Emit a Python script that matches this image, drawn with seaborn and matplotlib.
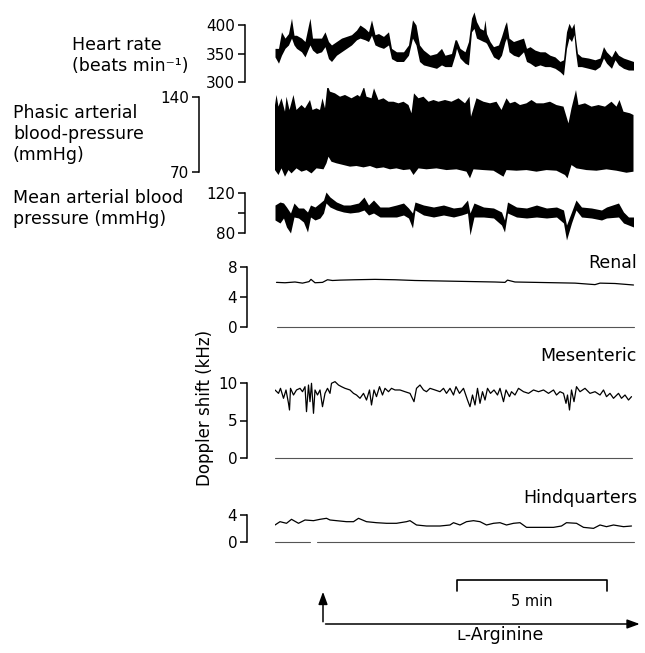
import numpy as np
import seaborn as sns
import matplotlib.pyplot as plt

sns.set_style("ticks")
plt.rcParams["font.family"] = ["DejaVu Sans"]
plt.rcParams["font.size"] = 12.5
plt.rcParams["text.color"] = "black"
plt.rcParams["ytick.color"] = "black"
plt.rcParams["axes.edgecolor"] = "black"

# time in seconds from start of record (trace is ~12 min long)
# heart rate: upper and lower edge of the noisy trace
hr_t = [0, 7, 13, 20, 27, 33, 38, 43, 53, 60, 67, 70, 75, 83, 93, 100, 107, 113, 123, 133,
        143, 153, 163, 170, 180, 187, 193, 200, 207, 217, 227, 233, 243, 257, 267, 275, 282, 289, 297, 310,
        323, 333, 340, 353, 360,
        363, 370, 380, 387, 393, 398, 403, 410, 417, 420, 423, 430, 437, 447, 453, 460, 463, 468, 477, 487,
        497, 503, 510, 520, 530, 540, 550, 560, 570, 577, 583, 588, 593, 598, 601, 605, 613, 627, 640, 650,
        657, 663, 673, 680, 687, 697, 707, 717]
hr_hi = [359, 359, 388, 377, 385, 412, 382, 382, 377, 371, 400, 412, 377, 377, 377, 388, 371, 365, 371, 377,
         380, 383, 391, 400, 394, 388, 409, 383, 385, 380, 388, 359, 353, 353, 365, 409, 400, 365, 356, 347,
         350, 359, 347, 350, 374,
         374, 359, 353, 371, 412, 423, 406, 394, 391, 409, 385, 371, 362, 365, 380, 400, 406, 377, 371, 374,
         377, 359, 362, 356, 353, 353, 347, 344, 336, 339, 388, 403, 394, 403, 377, 350, 344, 342, 339, 342,
         362, 353, 344, 356, 347, 342, 339, 336]
hr_lo = [344, 333, 347, 359, 365, 377, 365, 359, 353, 344, 359, 365, 356, 350, 353, 362, 341, 336, 347, 353,
         359, 365, 374, 377, 374, 371, 382, 365, 362, 359, 365, 341, 336, 336, 347, 377, 365, 336, 330, 327,
         324, 330, 327, 327, 347,
         359, 342, 333, 330, 388, 394, 377, 374, 371, 370, 368, 356, 344, 339, 347, 371, 377, 353, 347, 344,
         353, 336, 333, 327, 330, 327, 327, 324, 318, 312, 359, 377, 371, 383, 353, 327, 327, 324, 321, 327,
         342, 333, 324, 339, 330, 324, 321, 321]

# phasic pressure: systolic (upper) and diastolic (lower) envelopes
bp_hi_t = [0, 3, 7, 13, 20, 23, 29, 37, 43, 53, 60, 70, 75, 83, 90, 95, 100, 105, 110, 120,
           130, 140, 153, 165, 170, 178, 183, 193, 198, 207, 217, 227, 237, 247, 257, 267, 273, 278, 287, 297,
           307, 317, 327, 340, 353, 367, 380, 389, 392, 403, 417, 430, 443, 453, 463, 470, 480, 490, 503, 513,
           523, 537, 550, 563, 577, 587, 593, 602, 607, 620, 633, 647, 660, 673, 683, 689, 697, 710, 717]
bp_hi = [132.5, 141.9, 131, 138.8, 126.3, 140.3, 127.9, 141.9, 127.9, 132.5,
         129.4, 137.2, 127.9, 129.4, 127.9, 138.8, 129.4, 151.2, 145, 143.4,
         140.3, 141.9, 138.8, 141.9, 140.3, 149.6, 140.3, 138.8, 148.1, 137.2,
         138.8, 135.6, 135.6, 134.1, 135.6, 132.5, 124.8, 143.4, 138.8, 140.3,
         135.6, 137.2, 135.6, 137.2, 135.6, 138.8, 134.1, 140.3, 121.6, 138.8,
         135.6, 134.1, 135.6, 127.9, 138.8, 134.1, 135.6, 132.5, 134.1, 137.2,
         134.1, 134.1, 135.6, 132.5, 131, 115.4, 129.4, 146.5, 132.5, 134.1,
         131, 132.5, 131, 135.6, 131, 137.2, 126.3, 124.8, 123.2]
bp_lo_t = [0, 7, 13, 20, 27, 33, 43, 53, 63, 73, 83, 97, 103, 107, 113, 123, 137, 150, 163, 177,
           190, 203, 217, 230, 243, 257, 270, 277, 287, 303, 323, 343, 363, 383, 390, 397, 417, 437, 457, 463,
           483, 503, 523, 543, 563, 580, 585, 593, 603, 623, 643, 663, 683, 703, 717]
bp_lo = [71.8, 67.2, 73.4, 65.6, 71.8, 68.7, 73.4, 70.3, 71.8, 68.7,
         73.4, 72.5, 78.1, 84.3, 79.6, 78.1, 76.5, 75, 75.6, 74.3,
         75.6, 73.4, 74.3, 72.5, 73.4, 71.8, 72.5, 67.2, 73.4, 72.5,
         73.4, 71.8, 72.5, 70.3, 64.1, 72.5, 71.8, 71.2, 65.6, 71.8,
         71.2, 71.8, 70.3, 71.8, 71.2, 67.2, 64.1, 76.5, 73.4, 71.8,
         71.2, 72.5, 71.2, 69.3, 70.3]

# mean arterial pressure: upper and lower edge of the trace
map_t = [0, 10, 17, 23, 31, 38, 47, 57, 65, 71, 80, 90, 97, 102, 110, 123, 137, 150, 167, 178,
         187, 197, 210, 227, 243, 257, 267, 275, 280, 297, 317, 337, 357, 373, 385, 390, 398, 417, 437, 453,
         459, 465, 483, 503, 523, 543, 563, 577, 583, 593, 602, 613, 633, 653, 663, 687, 697, 707, 717]
map_hi = [108, 111, 110, 106, 100, 110, 105, 105, 101, 108, 106, 110, 113, 121, 116, 111, 108, 108, 110, 116,
          108, 113, 106, 106, 108, 110, 105, 100, 111, 108, 106, 108, 105, 106, 113, 100, 110, 106, 105, 101,
          93, 111, 106, 105, 108, 105, 106, 103, 88, 101, 113, 106, 105, 103, 106, 110, 101, 96, 96]
map_lo = [93, 90, 95, 86, 80, 96, 95, 91, 81, 96, 93, 95, 100, 110, 106, 103, 101, 100, 101, 103,
          98, 100, 96, 96, 96, 98, 95, 85, 103, 98, 96, 98, 96, 98, 100, 78, 96, 96, 95, 88,
          81, 100, 96, 95, 96, 95, 96, 90, 73, 90, 103, 96, 95, 93, 95, 96, 90, 88, 86]

renal_t = [3, 20, 40, 55, 68, 72, 80, 95, 105, 115, 130, 160, 200, 240, 280, 320, 360, 400, 440, 460,
           465, 480, 520, 560, 600, 640, 650, 680, 717]
renal = [5.95, 5.9, 6.0, 5.85, 6.05, 6.35, 5.9, 5.95, 6.3, 6.2, 6.25, 6.3, 6.35, 6.3, 6.2, 6.15, 6.1, 6.05, 6.0, 5.95,
         6.25, 6.0, 5.95, 5.9, 5.85, 5.65, 5.85, 5.8, 5.6]

mes_t = [0, 7, 11, 17, 22, 27, 29, 31, 37, 43, 50, 55, 60, 63, 67, 70, 73, 77, 80, 85,
         90, 95, 100, 105, 110, 113, 120, 127, 133, 140, 150, 157, 163, 170, 177, 183, 189, 193, 198, 203,
         209, 215, 220, 227, 233, 240, 250, 260, 270, 278, 283, 290, 297, 303, 310, 320, 330, 337, 343, 350,
         357, 362, 369, 377, 385, 390, 395, 400, 405, 410, 415, 420, 425, 431, 438, 445, 450, 457, 462, 469,
         473, 480, 487, 497, 507, 517, 527, 537, 547, 557, 563, 570, 577, 582, 585, 589, 593, 598, 603, 610,
         620, 630, 640, 650, 657, 663, 670, 677, 687, 693, 700, 707, 713]
mes = [9.07, 8.62, 9.29, 7.96, 9.07, 7.29, 6.40, 9.29, 8.40, 9.07,
       9.29, 8.84, 9.51, 6.18, 9.73, 7.51, 9.96, 5.96, 9.07, 8.40,
       9.07, 6.84, 8.62, 9.29, 8.62, 9.96, 10.18, 9.73, 9.51, 9.29,
       9.07, 8.62, 8.40, 7.96, 8.62, 7.73, 9.07, 7.07, 9.07, 8.18,
       9.51, 8.40, 9.29, 8.84, 9.29, 9.07, 9.07, 8.84, 8.62, 7.51,
       9.29, 9.73, 9.07, 8.84, 9.29, 9.07, 8.84, 9.29, 8.62, 9.29,
       8.40, 9.51, 8.62, 9.29, 7.73, 6.84, 8.40, 7.07, 9.29, 7.29,
       8.84, 7.73, 9.29, 8.62, 9.07, 8.40, 9.29, 7.51, 9.07, 8.18,
       8.84, 8.40, 9.29, 8.84, 8.62, 9.07, 8.84, 9.07, 8.62, 9.07,
       8.40, 8.84, 8.62, 7.29, 8.40, 6.40, 9.07, 7.51, 9.51, 8.84,
       9.29, 8.62, 8.84, 8.40, 9.07, 8.18, 8.62, 7.96, 8.62, 7.96,
       8.40, 7.73, 8.18]

hq_t = [0, 10, 23, 33, 47, 60, 77, 90, 103, 110, 123, 143, 157, 167, 183, 203, 223, 243, 263, 270,
        283, 303, 330, 350, 357, 370, 383, 397, 410, 423, 437, 450, 463, 477, 490, 503, 530, 557, 573, 583,
        603, 617, 637, 650, 663, 677, 697, 713]
hq = [2.52, 3.01, 2.77, 3.36, 2.77, 3.26, 3.16, 3.36, 3.51, 3.26, 3.16, 3.01, 3.01, 3.51, 3.01, 2.86, 2.77, 2.77, 3.01, 3.16,
      2.52, 2.37, 2.37, 2.52, 2.86, 2.52, 3.01, 3.16, 3.01, 2.52, 2.77, 2.86, 2.52, 2.77, 2.86, 2.17, 2.17, 2.17, 2.37, 2.86,
      2.77, 2.17, 2.02, 2.52, 2.27, 2.52, 2.27, 2.37]

# zero (no flow) baselines of the Doppler channels
base_renal = [[3, 717]]
base_mes = [[0, 713]]
base_hq = [[0, 70], [83, 717]]

arginine_start = 96   # s
scale_start, scale_len = 364, 300   # 5 min bar

W, H = 645, 653
fig = plt.figure(figsize=(W / 100, H / 100), dpi=100)


def panel(top, bot, hi, y_hi, lo, y_lo, spine_px, ticks, labels=None):
    ax = fig.add_axes([275 / W, 1 - bot / H, 360 / W, (bot - top) / H])
    k = (y_lo - y_hi) / (hi - lo)
    ax.set_ylim(lo - (bot - y_lo) / k, hi + (y_hi - top) / k)
    ax.set_xlim(0, 720)
    ax.patch.set_alpha(0)
    for s in ["top", "right", "bottom"]:
        ax.spines[s].set_visible(False)
    ax.spines["left"].set_position(("outward", (275 - spine_px) * 0.72))
    ax.spines["left"].set_bounds(lo, hi)
    ax.spines["left"].set_linewidth(1.1)
    ax.set_xticks([])
    ax.set_yticks(ticks)
    ax.set_yticklabels(labels if labels else [str(v) for v in ticks])
    ax.tick_params(axis="y", length=5, width=1.1, pad=2, labelsize=11, colors="black")
    return ax


def trace(ax, t, y, lw):
    sns.lineplot(x=t, y=y, ax=ax, color="black", lw=lw, estimator=None, sort=False)
    ax.set_xlabel("")
    ax.set_ylabel("")


ax = panel(2, 88, 400, 25, 300, 82, 245, [300, 350, 400])
ax.fill_between(hr_t, hr_lo, hr_hi, color="black", lw=0)

ax = panel(88, 180, 140, 97, 70, 172, 199, [70, 140])
ax.fill(np.r_[bp_hi_t, bp_lo_t[::-1]], np.r_[bp_hi, bp_lo[::-1]], color="black", lw=0)

ax = panel(180, 245, 120, 193, 80, 233, 245, [80, 100, 120], ["80", "", "120"])
ax.fill_between(map_t, map_lo, map_hi, color="black", lw=0)

for top, bot, hi, y_hi, y_lo, ticks, t, y, base in [
        (250, 335, 8, 267, 327, [0, 4, 8], renal_t, renal, base_renal),
        (370, 465, 10, 383, 458, [0, 5, 10], mes_t, mes, base_mes),
        (500, 550, 4, 515, 542, [0, 4], hq_t, hq, base_hq)]:
    ax = panel(top, bot, hi, y_hi, 0, y_lo, 247, ticks)
    trace(ax, t, y, 0.9)
    for seg in base:
        ax.plot(seg, [0, 0], color="#555555", lw=0.8)

# time scale and infusion marker
axb = fig.add_axes([275 / W, 0, 360 / W, 100 / H])
axb.set_xlim(0, 720)
axb.set_ylim(653, 553)
axb.axis("off")
axb.plot([scale_start, scale_start, scale_start + scale_len, scale_start + scale_len],
         [591, 580, 580, 591], color="black", lw=1.2)
axb.text(scale_start + scale_len / 2, 601, "5 min", ha="center", va="center", fontsize=10.5)
head = dict(arrowstyle="-|>,head_length=0.6,head_width=0.22", lw=1.1, color="black")
axb.annotate("", xy=(arginine_start, 589), xytext=(arginine_start, 624.5),
             arrowprops=head, annotation_clip=False)
axb.annotate("", xy=(735, 624), xytext=(arginine_start - 0.5, 624),
             arrowprops=head, annotation_clip=False)
axb.text(450, 635, "ʟ-Arginine", ha="center", va="center", fontsize=12.5)

# channel labels
fig.text(72 / W, 1 - 45 / H, "Heart rate", va="center", ha="left")
fig.text(72 / W, 1 - 66 / H, "(beats min⁻¹)", va="center", ha="left")
fig.text(13 / W, 1 - 113 / H, "Phasic arterial", va="center", ha="left")
fig.text(13 / W, 1 - 134 / H, "blood-pressure", va="center", ha="left")
fig.text(13 / W, 1 - 155 / H, "(mmHg)", va="center", ha="left")
fig.text(13 / W, 1 - 198 / H, "Mean arterial blood", va="center", ha="left")
fig.text(13 / W, 1 - 219 / H, "pressure (mmHg)", va="center", ha="left")
fig.text(205 / W, 1 - 408 / H, "Doppler shift (kHz)", va="center", ha="center", rotation=90, fontsize=12)
fig.text(637 / W, 1 - 263 / H, "Renal", va="center", ha="right")
fig.text(637 / W, 1 - 356 / H, "Mesenteric", va="center", ha="right")
fig.text(637 / W, 1 - 498 / H, "Hindquarters", va="center", ha="right")

fig.savefig("out.png", dpi=100)
